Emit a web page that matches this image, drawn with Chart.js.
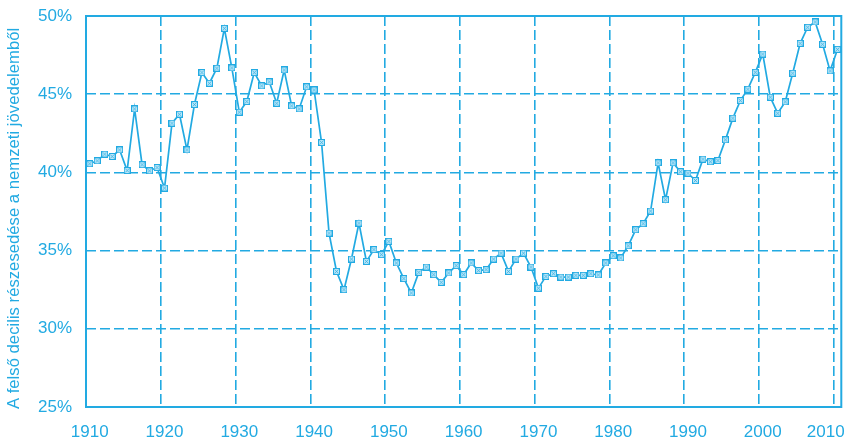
<!DOCTYPE html>
<html>
<head>
<meta charset="utf-8">
<script src="https://cdn.jsdelivr.net/npm/chart.js@4.4.1/dist/chart.umd.min.js"></script>
<style>
  html, body { margin: 0; padding: 0; background: #ffffff; }
  #wrap { width: 847px; height: 438px; position: relative; }
</style>
</head>
<body>
<div id="wrap"><canvas id="c" width="847" height="438"></canvas></div>
<script>
// Years 1910–2010
const years = [];
for (let y = 1910; y <= 2010; y++) years.push(String(y));

// Top decile income share (%)
const share1910s = [40.55, 40.74, 41.17, 41.02, 41.44, 40.12, 44.06, 40.49, 40.10, 40.31];
const share1920s = [39.00, 43.15, 43.72, 41.44, 44.34, 46.38, 45.70, 46.66, 49.21, 46.68];
const share1930s = [43.85, 44.53, 46.38, 45.53, 45.79, 44.42, 46.55, 44.25, 44.06, 45.47];
const share1940s = [45.27, 41.91, 36.12, 33.67, 32.50, 34.46, 36.76, 34.31, 35.06, 34.74];
const share1950s = [35.59, 34.21, 33.21, 32.29, 33.61, 33.95, 33.46, 32.97, 33.57, 34.04];
const share1960s = [33.46, 34.21, 33.72, 33.78, 34.46, 34.84, 33.67, 34.46, 34.84, 33.95];
const share1970s = [32.60, 33.35, 33.52, 33.31, 33.31, 33.42, 33.42, 33.52, 33.44, 34.21];
const share1980s = [34.67, 34.53, 35.31, 36.33, 36.72, 37.53, 40.61, 38.25, 40.61, 40.04];
const share1990s = [39.95, 39.48, 40.85, 40.68, 40.76, 42.08, 43.47, 44.59, 45.32, 46.40];
const share2000s = [47.57, 44.81, 43.78, 44.51, 46.34, 48.25, 49.28, 49.62, 48.19, 46.49, 47.87];

const topDecileShare = [].concat(share1910s, share1920s, share1930s, share1940s, share1950s,
  share1960s, share1970s, share1980s, share1990s, share2000s);

const yTicks = [25, 30, 35, 40, 45, 50];
const yTitle = 'A felső decilis részesedése a nemzeti jövedelemből';

const BLUE = '#22aae2';
const FONT = 'Liberation Sans, Arial, sans-serif';

// small square marker with a cross inside
const marker = document.createElement('canvas');
marker.width = 7; marker.height = 7;
(function () {
  const m = marker.getContext('2d');
  m.fillStyle = '#bde7f8';
  m.fillRect(0, 0, 7, 7);
  m.strokeStyle = 'rgba(34,170,226,0.75)';
  m.lineWidth = 1;
  m.beginPath();
  m.moveTo(1.5, 1.5); m.lineTo(5.5, 5.5);
  m.moveTo(5.5, 1.5); m.lineTo(1.5, 5.5);
  m.stroke();
  m.strokeStyle = BLUE;
  m.strokeRect(0.5, 0.5, 6, 6);
})();

const framePlugin = {
  id: 'frame',
  beforeDatasetsDraw(chart) {
    const {ctx, chartArea: a} = chart;
    ctx.save();
    ctx.strokeStyle = BLUE;
    ctx.lineWidth = 2;
    ctx.setLineDash([]);
    ctx.strokeRect(a.left, a.top, a.right - a.left, a.bottom - a.top);
    ctx.restore();
  }
};

new Chart(document.getElementById('c'), {
  type: 'line',
  data: {
    labels: years,
    datasets: [{
      data: topDecileShare,
      borderColor: BLUE,
      borderWidth: 1.7,
      pointStyle: marker,
      pointRadius: 3.5,
      tension: 0,
      fill: false
    }]
  },
  options: {
    responsive: false,
    animation: false,
    devicePixelRatio: 1,
    layout: { padding: { top: 16, right: 4, left: 0, bottom: 0 } },
    plugins: { legend: { display: false }, tooltip: { enabled: false } },
    scales: {
      x: {
        type: 'category',
        offset: true,
        grid: {
          offset: true,
          drawTicks: false,
          lineWidth: 1.6,
          color: (ctx) => (ctx.index % 10 === 0 ? BLUE : 'rgba(0,0,0,0)')
        },
        border: { display: false, dash: [10, 4] },
        ticks: {
          autoSkip: false,
          maxRotation: 0,
          minRotation: 0,
          padding: 15,
          color: BLUE,
          font: { family: FONT, size: 17 },
          callback: function (val, idx, all) {
            if (idx % 10 !== 0) return '';
            const t = this.getLabelForValue(val);
            return idx === all.length - 1 ? t + '     ' : t;
          }
        },
        afterFit: (s) => { s.height = 31; s.paddingLeft = 0; s.paddingRight = 0; }
      },
      y: {
        min: 25,
        max: 50,
        afterBuildTicks: (s) => { s.ticks = yTicks.map(v => ({ value: v })); },
        grid: { drawTicks: false, lineWidth: 1.6, color: BLUE },
        border: { display: false, dash: [10, 4] },
        ticks: {
          padding: 14,
          color: BLUE,
          font: { family: FONT, size: 17 },
          callback: (v) => v + '%'
        },
        title: {
          display: true,
          text: yTitle + '   ',
          color: BLUE,
          font: { family: FONT, size: 16.7 },
          padding: { top: 4, bottom: 0 }
        },
        afterFit: (s) => { s.width = 86; s.paddingTop = 0; s.paddingBottom = 0; }
      }
    }
  },
  plugins: [framePlugin]
});
</script>
</body>
</html>
